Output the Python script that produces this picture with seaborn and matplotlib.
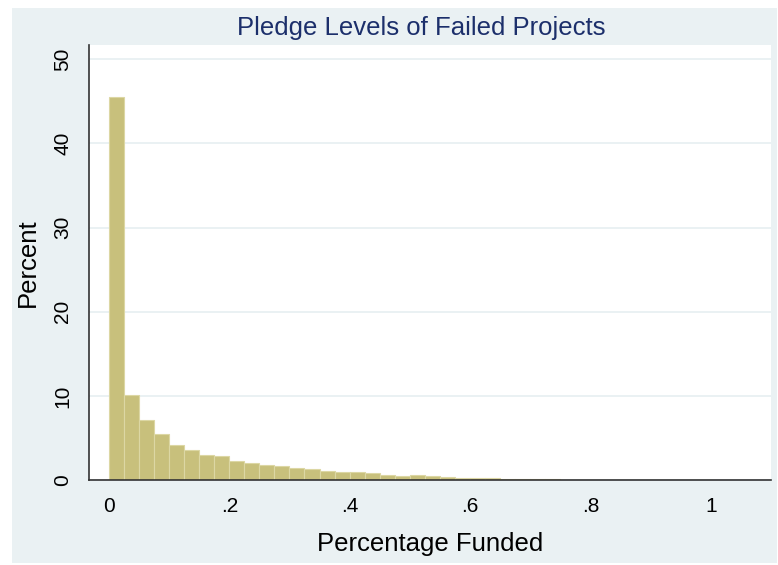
import numpy as np
import pandas as pd
import matplotlib
matplotlib.use("Agg")
import matplotlib.pyplot as plt
from matplotlib.patches import Rectangle
import seaborn as sns

# percent of failed projects per 0.025-wide bin of "percentage funded"
bin_width = 0.025
bin_start = np.arange(40) * bin_width
percent = [45.5, 10.1, 7.1, 5.5, 4.2, 3.6, 3.0, 2.9,
           2.2, 2.0, 1.8, 1.7, 1.4, 1.3, 1.05, 1.0,
           0.95, 0.8, 0.65, 0.5, 0.55, 0.45, 0.3, 0.25,
           0.2, 0.18, 0.15, 0.1, 0.08, 0.07, 0.05, 0.04,
           0.04, 0.03, 0.03, 0.02, 0.02, 0.02, 0.01, 0.01]
x_ticks = [0, 0.2, 0.4, 0.6, 0.8, 1.0]
x_tick_labels = ["0", ".2", ".4", ".6", ".8", "1"]
y_ticks = [0, 10, 20, 30, 40, 50]

df = pd.DataFrame({"funded": bin_start + bin_width / 2, "pct": percent})

sns.set_style("white")
plt.rcParams["font.family"] = ["Liberation Sans", "DejaVu Sans"]

W, H = 778, 565
fig = plt.figure(figsize=(W / 100, H / 100), dpi=100)
fig.patch.set_facecolor("white")

# Stata-like light background panel, drawn behind the axes
fig.patches.append(Rectangle((12 / W, 2 / H), 765 / W, 555 / H,
                             transform=fig.transFigure, facecolor="#eaf1f3",
                             edgecolor="none", zorder=-10))

ax = fig.add_axes([89 / W, 1 - 480 / H, (771 - 89) / W, (480 - 45) / H])
ax.set_facecolor("white")

sns.histplot(data=df, x="funded", weights="pct",
             binwidth=bin_width, binrange=(0, 1), stat="count",
             color="#c8c07c", edgecolor="#dcd7a4", linewidth=0.8,
             alpha=1, ax=ax)

ax.set_xlim(-0.033, 1.1)
ax.set_ylim(0, 51.7)
ax.set_xticks(x_ticks)
ax.set_xticklabels(x_tick_labels)
ax.set_yticks(y_ticks)
ax.set_yticklabels([str(v) for v in y_ticks], rotation=90, va="center")

ax.yaxis.grid(True, color="#e6eff1", linewidth=1.2)
ax.set_axisbelow(True)
for s in ["top", "right"]:
    ax.spines[s].set_visible(False)
for s in ["left", "bottom"]:
    ax.spines[s].set_color("#333333")
    ax.spines[s].set_linewidth(1.2)

ax.tick_params(axis="both", direction="out", length=5, width=1.1,
               color="#333333", labelsize=15, labelcolor="black")
ax.tick_params(axis="x", pad=7)
ax.tick_params(axis="y", pad=7)

ax.set_xlabel("Percentage Funded", fontsize=18.5, color="black")
ax.xaxis.label.set_va("baseline")
ax.xaxis.set_label_coords(0.5, (480 - 550.5) / 435)
ax.set_ylabel("Percent", fontsize=18.5, color="black", ha="center", va="center")
ax.yaxis.set_label_coords((28 - 89) / 682, 0.5)

fig.text(421 / W, 1 - 35 / H, "Pledge Levels of Failed Projects",
         fontsize=18.5, color="#1c2f6b", ha="center", va="baseline")

fig.savefig("out.png", dpi=100)
